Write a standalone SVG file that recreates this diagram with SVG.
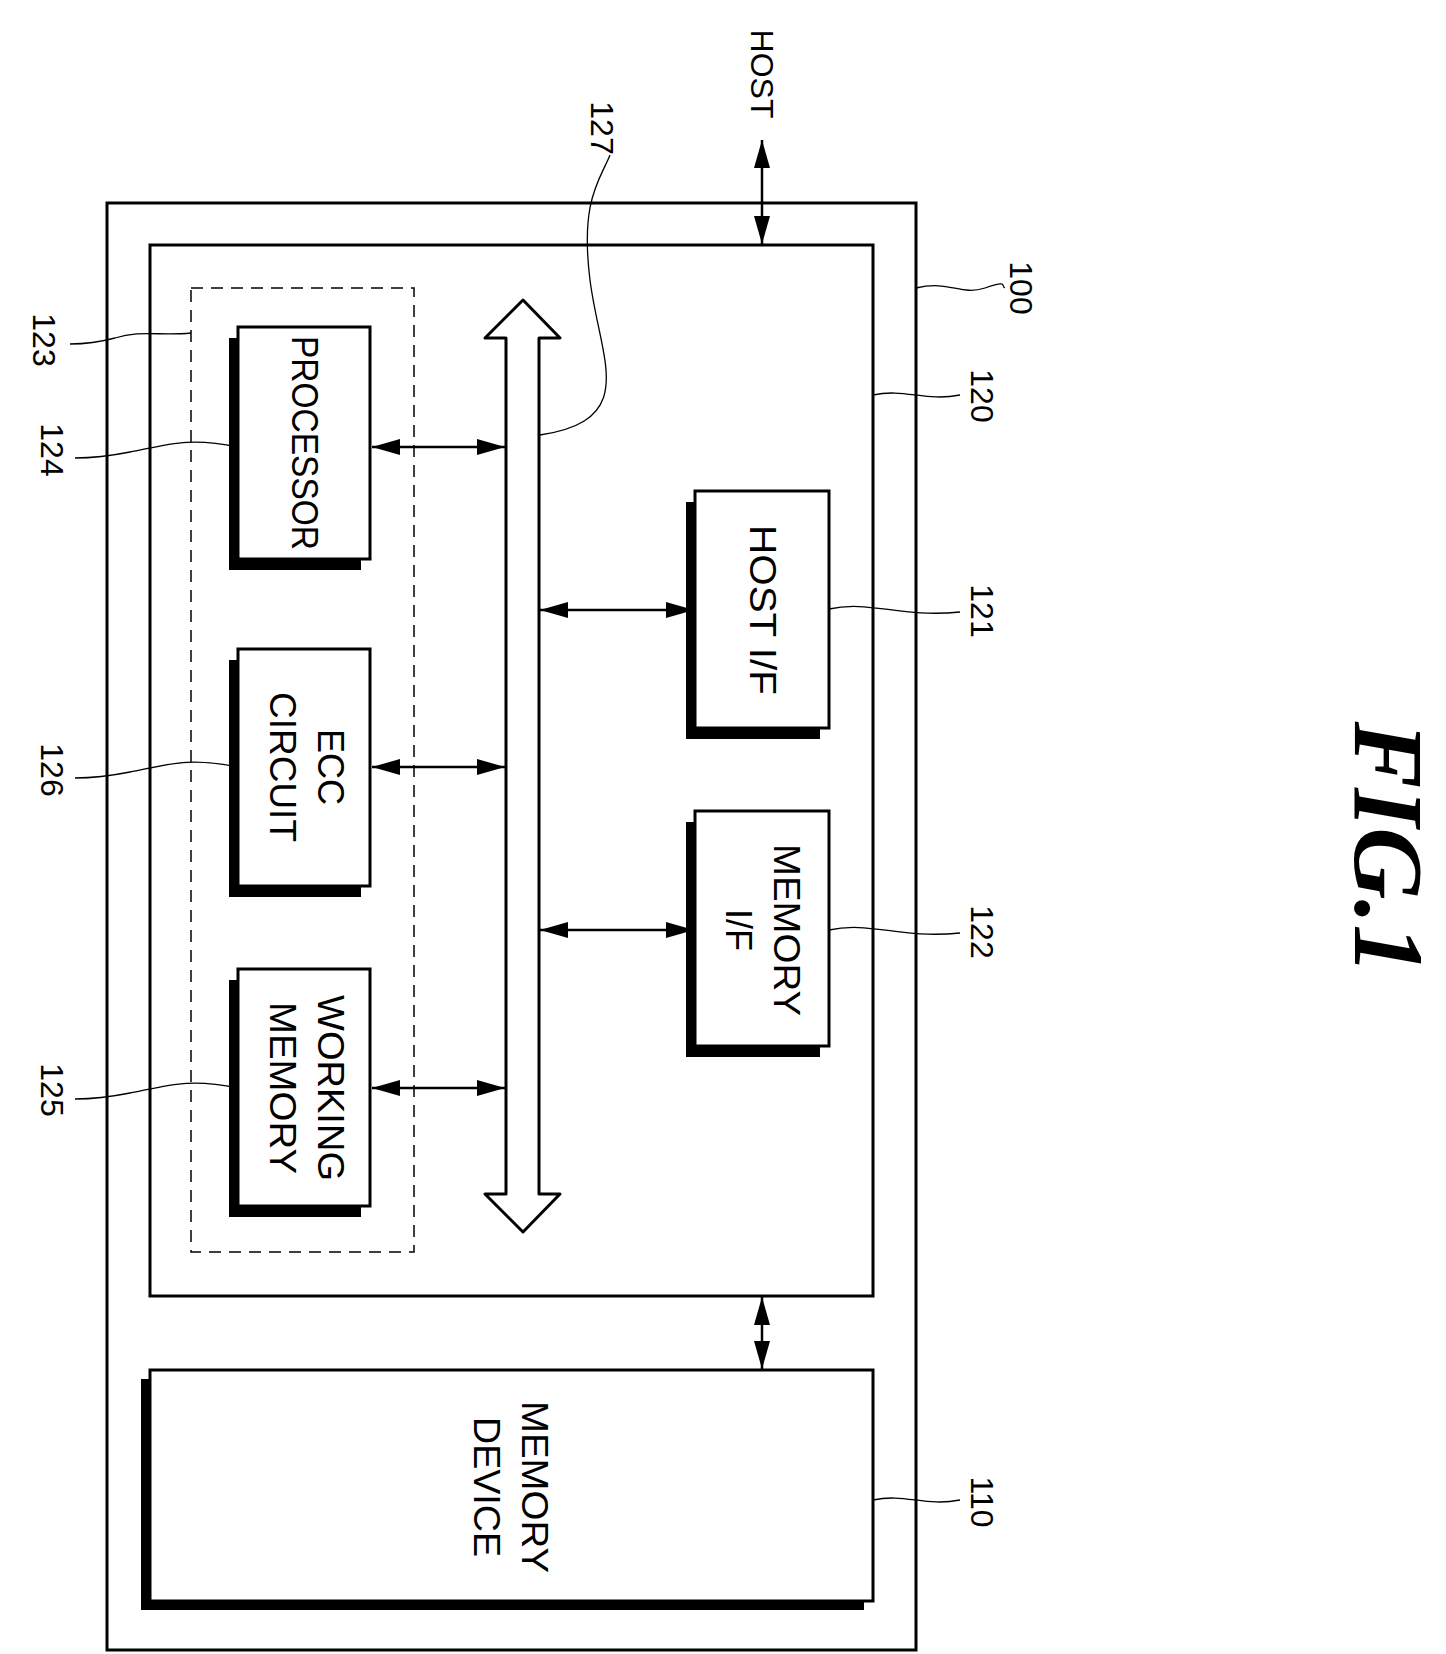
<svg xmlns="http://www.w3.org/2000/svg" width="1446" height="1654" viewBox="0 0 1446 1654">
<defs>
<marker id="ab" viewBox="0 0 10 10" refX="10" refY="5" markerWidth="28" markerHeight="20" markerUnits="userSpaceOnUse" orient="auto-start-reverse" preserveAspectRatio="none"><path d="M0,1 L10,5 L0,9 Z" fill="#000"/></marker>
</defs>
<style>
.b{fill:#fff;stroke:#000;stroke-width:3}
.s{fill:#000}
.t{font-family:"Liberation Sans",Arial,sans-serif;font-size:36px;fill:#000}
.n{font-family:"Liberation Sans",Arial,sans-serif;font-size:32px;fill:#000}
.l{fill:none;stroke:#000;stroke-width:1.3}
.c{fill:none;stroke:#000;stroke-width:2.5}
</style>
<rect width="1446" height="1654" fill="#fff"/>
<g id="n100"><rect class="b" x="107" y="203" width="809" height="1447"/></g>
<g id="n120"><rect class="b" x="150" y="245" width="723" height="1051"/></g>
<g id="n123"><rect x="191" y="288" width="223" height="964" fill="none" stroke="#000" stroke-width="1.5" stroke-dasharray="12,8"/></g>
<g id="n124"><rect class="s" x="229" y="338" width="132" height="232"/><rect class="b" x="238" y="327" width="132" height="232"/>
<text class="t" text-anchor="middle" dominant-baseline="central" transform="translate(304,443) rotate(90)" textLength="214" lengthAdjust="spacingAndGlyphs">PROCESSOR</text></g>
<g id="n126"><rect class="s" x="229" y="660" width="132" height="237"/><rect class="b" x="238" y="649" width="132" height="237"/>
<text class="t" text-anchor="middle" dominant-baseline="central" transform="translate(330,767) rotate(90)">ECC</text>
<text class="t" text-anchor="middle" dominant-baseline="central" transform="translate(282,767) rotate(90)" textLength="150" lengthAdjust="spacingAndGlyphs">CIRCUIT</text></g>
<g id="n125"><rect class="s" x="229" y="980" width="132" height="237"/><rect class="b" x="238" y="969" width="132" height="237"/>
<text class="t" text-anchor="middle" dominant-baseline="central" transform="translate(330,1088) rotate(90)" textLength="186" lengthAdjust="spacingAndGlyphs">WORKING</text>
<text class="t" text-anchor="middle" dominant-baseline="central" transform="translate(282,1088) rotate(90)" textLength="172" lengthAdjust="spacingAndGlyphs">MEMORY</text></g>
<g id="n127"><path d="M506,1194 L506,338 L485,338 L523,300 L560,338 L539,338 L539,1194 L560,1194 L523,1232 L485,1194 Z" fill="#fff" stroke="#000" stroke-width="3" stroke-linejoin="round"/></g>
<g id="n121"><rect class="s" x="686" y="502" width="134" height="237"/><rect class="b" x="695" y="491" width="134" height="237"/>
<text class="t" text-anchor="middle" dominant-baseline="central" transform="translate(762,610) rotate(90)" textLength="170" lengthAdjust="spacingAndGlyphs">HOST I/F</text></g>
<g id="n122"><rect class="s" x="686" y="822" width="134" height="235"/><rect class="b" x="695" y="811" width="134" height="235"/>
<text class="t" text-anchor="middle" dominant-baseline="central" transform="translate(786,930) rotate(90)" textLength="172" lengthAdjust="spacingAndGlyphs">MEMORY</text>
<text class="t" text-anchor="middle" dominant-baseline="central" transform="translate(738,930) rotate(90)">I/F</text></g>
<g id="n110"><rect class="s" x="141" y="1379" width="723" height="231"/><rect class="b" x="150" y="1370" width="723" height="231"/>
<text class="t" text-anchor="middle" dominant-baseline="central" transform="translate(534,1487) rotate(90)" textLength="172" lengthAdjust="spacingAndGlyphs">MEMORY</text>
<text class="t" text-anchor="middle" dominant-baseline="central" transform="translate(486,1487) rotate(90)" textLength="140" lengthAdjust="spacingAndGlyphs">DEVICE</text></g>
<g id="connectors">
<line class="c" x1="372" y1="447" x2="505" y2="447" marker-start="url(#ab)" marker-end="url(#ab)"/>
<line class="c" x1="372" y1="767" x2="505" y2="767" marker-start="url(#ab)" marker-end="url(#ab)"/>
<line class="c" x1="372" y1="1088" x2="505" y2="1088" marker-start="url(#ab)" marker-end="url(#ab)"/>
<line class="c" x1="540" y1="610" x2="694" y2="610" marker-start="url(#ab)" marker-end="url(#ab)"/>
<line class="c" x1="540" y1="930" x2="694" y2="930" marker-start="url(#ab)" marker-end="url(#ab)"/>
<line class="c" x1="762" y1="140" x2="762" y2="244" marker-start="url(#ab)" marker-end="url(#ab)"/>
<line class="c" x1="762" y1="1297" x2="762" y2="1369" marker-start="url(#ab)" marker-end="url(#ab)"/>
<path class="l" d="M916,288 C950,280 960,296 985,288 S1000,286 1005,288"/>
<path class="l" d="M873,395 C905,388 925,402 960,395"/>
<path class="l" d="M829,609 C870,600 900,618 960,612"/>
<path class="l" d="M829,930 C870,921 900,939 960,933"/>
<path class="l" d="M873,1500 C905,1493 925,1507 960,1500"/>
<path class="l" d="M540,435 C640,420 600,360 590,280 C580,200 600,180 610,155"/>
<path class="l" d="M191,333 C160,336 140,330 115,338 C100,342 85,344 70,344"/>
<path class="l" d="M238,447 C190,437 170,444 130,452 C110,456 90,458 75,458"/>
<path class="l" d="M238,767 C190,757 170,764 130,772 C110,776 90,778 75,778"/>
<path class="l" d="M238,1088 C190,1078 170,1085 130,1093 C110,1097 90,1099 75,1099"/>
</g>
<g id="labels">
<text class="n" text-anchor="middle" dominant-baseline="central" transform="translate(1021,288) rotate(90)">100</text>
<text class="n" text-anchor="middle" dominant-baseline="central" transform="translate(982,396) rotate(90)">120</text>
<text class="n" text-anchor="middle" dominant-baseline="central" transform="translate(982,611) rotate(90)">121</text>
<text class="n" text-anchor="middle" dominant-baseline="central" transform="translate(982,932) rotate(90)">122</text>
<text class="n" text-anchor="middle" dominant-baseline="central" transform="translate(982,1502) rotate(90)">110</text>
<text class="n" text-anchor="middle" dominant-baseline="central" transform="translate(602,128) rotate(90)">127</text>
<text class="n" text-anchor="middle" dominant-baseline="central" transform="translate(762,74) rotate(90)">HOST</text>
<text class="n" text-anchor="middle" dominant-baseline="central" transform="translate(44,340) rotate(90)">123</text>
<text class="n" text-anchor="middle" dominant-baseline="central" transform="translate(52,450) rotate(90)">124</text>
<text class="n" text-anchor="middle" dominant-baseline="central" transform="translate(52,770) rotate(90)">126</text>
<text class="n" text-anchor="middle" dominant-baseline="central" transform="translate(52,1090) rotate(90)">125</text>
<text font-family="'Liberation Serif',serif" font-style="italic" font-weight="bold" font-size="100" text-anchor="middle" dominant-baseline="central" transform="translate(1388,848) rotate(90)">FIG.1</text>
</g>
</svg>
